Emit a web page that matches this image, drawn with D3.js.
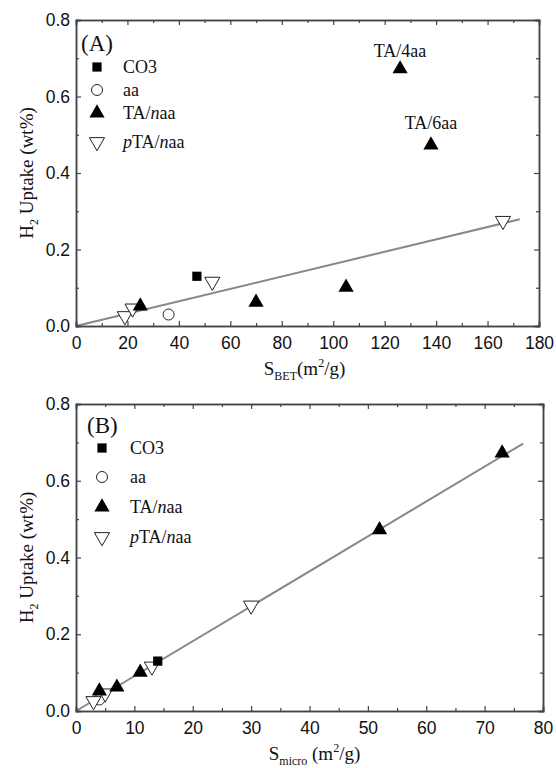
<!DOCTYPE html>
<html lang="en">
<head>
<meta charset="UTF-8">
<title>H2 uptake vs surface area</title>
<script src="https://d3js.org/d3.v7.min.js"></script>
<style>
  body { margin: 0; background: #fff; }
  svg { display: block; }
  .fit { fill: none; stroke: #888; stroke-width: 2; }
</style>
</head>
<body>
<svg width="556" height="768"></svg>
<script>
// ---- data ----
// panel A: S_BET (m2/g) vs H2 uptake (wt%)
const co3A   = [[47, 0.13]];
const aaA    = [[36, 0.03]];
const taA    = [[25, 0.052], [70, 0.062], [105, 0.101], [126, 0.672], [138, 0.473]];
const ptaA   = [[19, 0.026], [22, 0.046], [53, 0.116], [166, 0.275]];
const fitA   = [[0, 0], [172.5, 0.279]];
const xTicksA = [0, 20, 40, 60, 80, 100, 120, 140, 160, 180];

// panel B: S_micro (m2/g) vs H2 uptake (wt%)
const co3B   = [[14, 0.13]];
const aaB    = [[4, 0.03]];
const taB    = [[4, 0.052], [7, 0.062], [11, 0.101], [52, 0.472], [73, 0.672]];
const ptaB   = [[3, 0.026], [5, 0.046], [13, 0.116], [30, 0.275]];
const fitB   = [[0, 0], [76.6, 0.697]];
const xTicksB = [0, 10, 20, 30, 40, 50, 60, 70, 80];

const yTicks = [0.0, 0.2, 0.4, 0.6, 0.8];
const legendNames = ["CO3", "aa", "TA/naa", "pTA/naa"];

const SERIF = '"Liberation Serif", "Times New Roman", Times, serif';
const SANS = '"Liberation Sans", Arial, Helvetica, sans-serif';

const svg = d3.select("svg");

const sq = d3.symbol().type(d3.symbolSquare).size(85);
const circ = d3.symbol().type(d3.symbolCircle).size(95);
const triUp = d3.symbol().type(d3.symbolTriangle).size(100);

function styleMarker(sel, kind) {
  if (kind === "sq") sel.attr("d", sq).attr("fill", "#000");
  if (kind === "circ") sel.attr("d", circ).attr("fill", "#fff").attr("stroke", "#222").attr("stroke-width", 1);
  if (kind === "up") sel.attr("d", triUp).attr("fill", "#000");
  if (kind === "down") sel.attr("d", triUp).attr("fill", "#fff").attr("stroke", "#222").attr("stroke-width", 1);
}

function markers(g, data, x, y, kind) {
  const sel = g.selectAll(null).data(data).enter().append("path")
    .attr("transform", d => `translate(${x(d[0])},${y(d[1])})` + (kind === "down" ? " rotate(180)" : ""));
  styleMarker(sel, kind);
}

function serifText(g, size) {
  return g.append("text").style("font-family", SERIF).style("font-size", size + "px").attr("fill", "#111");
}

function legendLabel(t, name) {
  // italic n / p as in the figure
  if (name === "TA/naa") {
    t.append("tspan").text("TA/");
    t.append("tspan").style("font-style", "italic").text("n");
    t.append("tspan").text("aa");
  } else if (name === "pTA/naa") {
    t.append("tspan").style("font-style", "italic").text("p");
    t.append("tspan").text("TA/");
    t.append("tspan").style("font-style", "italic").text("n");
    t.append("tspan").text("aa");
  } else {
    t.text(name);
  }
}

function drawPanel(p) {
  const x = d3.scaleLinear().domain([p.xTicks[0], p.xTicks[p.xTicks.length - 1]]).range([p.left, p.right]);
  const y = d3.scaleLinear().domain([0, 0.8]).range([p.bottom, p.top]);
  const g = svg.append("g");

  // fit line
  g.append("path").attr("class", "fit")
    .attr("d", d3.line().x(d => x(d[0])).y(d => y(d[1]))(p.fit));

  // axes (ticks inward on all four sides)
  const step = p.xTicks[1] - p.xTicks[0];
  const xMinor = d3.range(p.xTicks[0] + step / 2, p.xTicks[p.xTicks.length - 1], step);
  const yMinor = [0.1, 0.3, 0.5, 0.7];

  g.append("g").attr("transform", `translate(0,${p.bottom})`)
    .call(d3.axisBottom(x).tickValues(p.xTicks).tickSize(-5).tickPadding(11).tickFormat(d3.format("d")));
  g.append("g").attr("transform", `translate(0,${p.top})`)
    .call(d3.axisTop(x).tickValues(p.xTicks).tickSize(-5).tickFormat(""));
  g.append("g").attr("transform", `translate(${p.left},0)`)
    .call(d3.axisLeft(y).tickValues(yTicks).tickSize(-5).tickPadding(6).tickFormat(d3.format(".1f")));
  g.append("g").attr("transform", `translate(${p.right},0)`)
    .call(d3.axisRight(y).tickValues(yTicks).tickSize(-5).tickFormat(""));
  g.append("g").attr("transform", `translate(0,${p.bottom})`)
    .call(d3.axisBottom(x).tickValues(xMinor).tickSize(-3).tickFormat(""));
  g.append("g").attr("transform", `translate(0,${p.top})`)
    .call(d3.axisTop(x).tickValues(xMinor).tickSize(-3).tickFormat(""));
  g.append("g").attr("transform", `translate(${p.left},0)`)
    .call(d3.axisLeft(y).tickValues(yMinor).tickSize(-3).tickFormat(""));
  g.append("g").attr("transform", `translate(${p.right},0)`)
    .call(d3.axisRight(y).tickValues(yMinor).tickSize(-3).tickFormat(""));

  g.selectAll(".domain").attr("stroke", "#444").attr("stroke-width", 1.5);
  g.selectAll(".tick line").attr("stroke", "#444").attr("stroke-width", 1.2);
  g.selectAll(".tick text").attr("fill", "#111")
    .style("font-family", SANS).style("font-size", "17.5px");

  // data points
  markers(g, p.aa, x, y, "circ");
  markers(g, p.pta, x, y, "down");
  markers(g, p.ta, x, y, "up");
  markers(g, p.co3, x, y, "sq");

  // panel label
  serifText(g, 23).attr("x", p.tagX).attr("y", p.tagY).text(p.tag);

  // legend
  const kinds = ["sq", "circ", "up", "down"];
  p.legY.forEach((ly, i) => {
    const sym = g.append("path").attr("transform", `translate(${p.legX},${ly})` + (kinds[i] === "down" ? " rotate(180)" : ""));
    styleMarker(sym, kinds[i]);
    const t = serifText(g, 18).attr("x", p.legTextX).attr("y", ly + 6);
    legendLabel(t, legendNames[i]);
  });

  // y axis title
  const yt = serifText(g, 19)
    .attr("text-anchor", "middle")
    .attr("transform", `translate(33,${(p.top + p.bottom) / 2}) rotate(-90)`);
  yt.append("tspan").text("H");
  yt.append("tspan").style("font-size", "12px").attr("dy", 5).text("2");
  yt.append("tspan").attr("dy", -5).text(" Uptake (wt%)");

  // x axis title
  const xt = serifText(g, 19)
    .attr("text-anchor", "middle")
    .attr("x", (p.left + p.right) / 2 + p.titleDx).attr("y", p.bottom + 49);
  xt.append("tspan").text("S");
  xt.append("tspan").style("font-size", "12px").attr("dy", 5).text(p.sub);
  xt.append("tspan").attr("dy", -5).text(p.subGap + "(m");
  xt.append("tspan").style("font-size", "12px").attr("dy", -8).text("2");
  xt.append("tspan").attr("dy", 8).text("/g)");

  return { g, x, y };
}

const A = drawPanel({
  left: 76, right: 539, top: 20, bottom: 326, xTicks: xTicksA,
  co3: co3A, aa: aaA, ta: taA, pta: ptaA, fit: fitA,
  tag: "(A)", tagX: 81, tagY: 51,
  legX: 97, legTextX: 123, legY: [67, 90, 113, 142],
  sub: "BET", subGap: "", titleDx: -3
});

// point labels in panel A
serifText(A.g, 18).attr("text-anchor", "middle")
  .attr("x", A.x(taA[3][0])).attr("y", A.y(taA[3][1]) - 12).text("TA/4aa");
serifText(A.g, 18).attr("text-anchor", "middle")
  .attr("x", A.x(taA[4][0])).attr("y", A.y(taA[4][1]) - 16).text("TA/6aa");

drawPanel({
  left: 76, right: 543, top: 404, bottom: 711, xTicks: xTicksB,
  co3: co3B, aa: aaB, ta: taB, pta: ptaB, fit: fitB,
  tag: "(B)", tagX: 87, tagY: 433,
  legX: 102, legTextX: 130, legY: [448, 477, 507, 537],
  sub: "micro", subGap: " ", titleDx: 5
});
</script>
</body>
</html>
